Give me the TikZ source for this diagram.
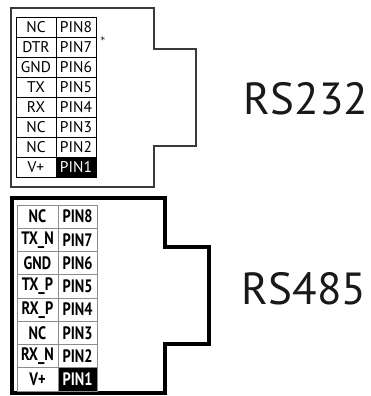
\documentclass[tikz,border=0pt]{standalone}
\usepackage{fontspec}
\setmainfont{PT Sans}
\newfontfamily\narrowfont[FakeStretch=0.8]{PT Sans}
\newfontfamily\starfont{DejaVu Sans}
\usetikzlibrary{positioning}

\definecolor{inkgray}{HTML}{3A3A3A}
\definecolor{gridgray}{HTML}{8C8C8C}

\tikzset{
  sigcell/.style={draw, line width=0.9pt, minimum width=40pt, minimum height=20pt,
    inner sep=0pt, font=\fontsize{15.5}{16}\selectfont},
  pincell/.style={sigcell},
  boldcell/.style={draw=gridgray, line width=0.9pt, minimum width=41pt, minimum height=23.25pt,
    inner sep=0pt, font=\narrowfont\bfseries\fontsize{18}{19}\selectfont},
  bigname/.style={inner sep=0pt, font=\fontsize{45}{47}\selectfont, text=black!90}
}

\begin{document}
\begin{tikzpicture}[x=1pt,y=-1pt]
  \useasboundingbox (0,0) rectangle (371,396);

  % RS232 connector
  \draw [inkgray, line width=1.1pt]
    (11,8) -- (154,8) -- (154,49) -- (196,49) -- (196,146)
    -- (154,146) -- (154,187) -- (11,187) -- cycle;

  \foreach \sig [count=\i] in {V+,NC,NC,RX,TX,GND,DTR,NC} {
    \node [sigcell] (topsig\i) at (36,187-20*\i) {\sig};
    \node [pincell] (toppin\i) at (76,187-20*\i) {PIN\i};
  }
  \node [pincell, fill=black, text=white] at (toppin1) {PIN1};
  \node [right=4pt of toppin7.north east, anchor=north west, inner sep=0pt,
    font=\starfont\fontsize{9}{9}\selectfont] (star) {*};

  \node [bigname] (rs232) at (306,99) {RS232};

  % RS485 connector
  \draw [black, line width=3.6pt, line join=miter]
    (12,198) -- (165,198) -- (165,247) -- (209,247) -- (209,344)
    -- (165,344) -- (165,393) -- (12,393) -- cycle;

  \foreach \sig [count=\i] in {V+,RX\_N,NC,RX\_P,TX\_P,GND,TX\_N,NC} {
    \node [boldcell] (botsig\i) at (37.5,402.625-23.25*\i) {\sig};
    \node [boldcell, minimum width=39pt] (botpin\i) at (77.5,402.625-23.25*\i) {PIN\i};
  }
  \node [boldcell, minimum width=39pt, fill=black, text=white] at (botpin1) {PIN1};

  \node [bigname] (rs485) at (304,289) {RS485};
\end{tikzpicture}
\end{document}
